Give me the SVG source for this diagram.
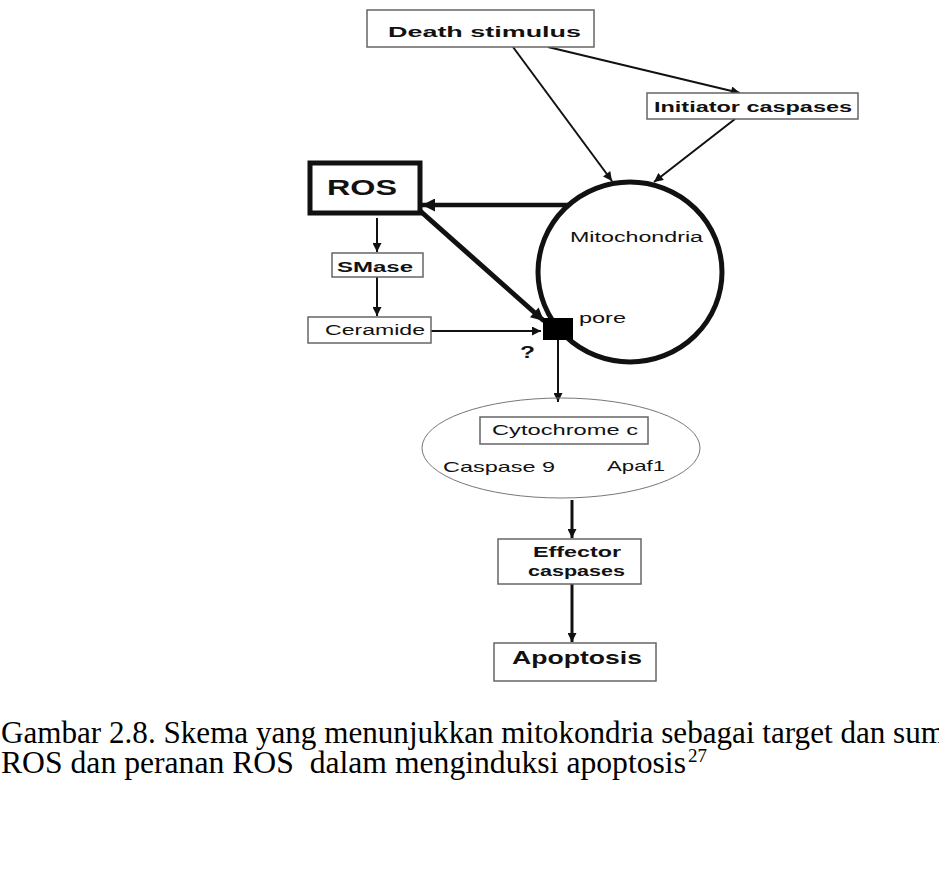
<svg xmlns="http://www.w3.org/2000/svg" width="939" height="883" viewBox="0 0 939 883">
<style>
.box{fill:#fff;stroke:#666;stroke-width:1.5}
.lbl{font-family:"Liberation Sans",Arial,sans-serif;fill:#111}
.b{font-weight:bold}
.edge{stroke:#111;fill:none}
.cap{font-family:"Liberation Serif","Times New Roman",serif;font-size:31px;fill:#000}
.sup{font-family:"Liberation Serif","Times New Roman",serif;font-size:19px;fill:#000}
</style>
<defs>
<marker id="ah" viewBox="0 0 10 10" refX="10" refY="5" markerUnits="userSpaceOnUse" markerWidth="11" markerHeight="9" orient="auto"><path d="M0,0 L10,5 L0,10 z" fill="#111"/></marker>
<marker id="ahb" viewBox="0 0 10 10" refX="10" refY="5" markerUnits="userSpaceOnUse" markerWidth="15" markerHeight="13" orient="auto"><path d="M0,0 L10,5 L0,10 z" fill="#111"/></marker>
</defs>
<rect width="939" height="883" fill="#fff"/>

<g id="connectors">
<line class="edge" x1="513" y1="47" x2="612" y2="181" stroke-width="2" marker-end="url(#ah)"/>
<line class="edge" x1="548" y1="47" x2="740" y2="93" stroke-width="2" marker-end="url(#ah)"/>
<line class="edge" x1="735" y1="119" x2="654" y2="182" stroke-width="2" marker-end="url(#ah)"/>
<line class="edge" x1="569" y1="205" x2="422" y2="205" stroke-width="4.5" marker-end="url(#ahb)"/>
<line class="edge" x1="418" y1="209" x2="544" y2="321" stroke-width="5" marker-end="url(#ahb)"/>
<line class="edge" x1="377" y1="218" x2="377" y2="252" stroke-width="2" marker-end="url(#ah)"/>
<line class="edge" x1="377" y1="277" x2="377" y2="316" stroke-width="2" marker-end="url(#ah)"/>
<line class="edge" x1="431" y1="331" x2="541" y2="331" stroke-width="2" marker-end="url(#ah)"/>
<line class="edge" x1="558" y1="340" x2="558" y2="402" stroke-width="2" marker-end="url(#ah)"/>
<line class="edge" x1="572" y1="500" x2="572" y2="538" stroke-width="3" marker-end="url(#ah)"/>
<line class="edge" x1="572" y1="584" x2="572" y2="642" stroke-width="3" marker-end="url(#ah)"/>
</g>

<g id="death-stimulus">
<rect class="box" x="367" y="10" width="227" height="37"/>
<text class="lbl b" x="388" y="37" font-size="15" textLength="193" lengthAdjust="spacingAndGlyphs">Death stimulus</text>
</g>

<g id="initiator-caspases">
<rect class="box" x="647" y="93" width="211" height="26"/>
<text class="lbl b" x="654" y="112" font-size="14" textLength="198" lengthAdjust="spacingAndGlyphs">Initiator caspases</text>
</g>

<g id="mitochondria">
<ellipse cx="630" cy="272" rx="92" ry="90" fill="none" stroke="#111" stroke-width="5"/>
<text class="lbl" x="570" y="242" font-size="14" textLength="133" lengthAdjust="spacingAndGlyphs">Mitochondria</text>
</g>

<g id="pore">
<rect x="543" y="318" width="30" height="22" fill="#000"/>
<text class="lbl" x="579" y="323" font-size="14" textLength="47" lengthAdjust="spacingAndGlyphs">pore</text>
<text class="lbl b" x="520" y="358" font-size="17" textLength="15" lengthAdjust="spacingAndGlyphs">?</text>
</g>

<g id="ros">
<rect x="310" y="163" width="110" height="50" fill="#fff" stroke="#111" stroke-width="5"/>
<text class="lbl b" x="327" y="195" font-size="22" textLength="70" lengthAdjust="spacingAndGlyphs">ROS</text>
</g>

<g id="smase">
<rect class="box" x="332" y="253" width="91" height="24"/>
<text class="lbl b" x="337" y="272" font-size="14" textLength="76" lengthAdjust="spacingAndGlyphs">SMase</text>
</g>

<g id="ceramide">
<rect class="box" x="308" y="317" width="123" height="26"/>
<text class="lbl" x="325" y="335" font-size="14" textLength="100" lengthAdjust="spacingAndGlyphs">Ceramide</text>
</g>

<g id="complex">
<ellipse cx="561" cy="448" rx="139" ry="50" fill="none" stroke="#777" stroke-width="1"/>
<rect class="box" x="480" y="417" width="168" height="27"/>
<text class="lbl" x="492" y="435" font-size="15" textLength="146" lengthAdjust="spacingAndGlyphs">Cytochrome c</text>
<text class="lbl" x="443" y="472" font-size="15" textLength="112" lengthAdjust="spacingAndGlyphs">Caspase 9</text>
<text class="lbl" x="607" y="471" font-size="15" textLength="58" lengthAdjust="spacingAndGlyphs">Apaf1</text>
</g>

<g id="effector-caspases">
<rect class="box" x="498" y="539" width="143" height="45"/>
<text class="lbl b" x="533" y="557" font-size="15" textLength="88" lengthAdjust="spacingAndGlyphs">Effector</text>
<text class="lbl b" x="528" y="576" font-size="15" textLength="97" lengthAdjust="spacingAndGlyphs">caspases</text>
</g>

<g id="apoptosis">
<rect class="box" x="494" y="643" width="162" height="38"/>
<text class="lbl b" x="512" y="664" font-size="18" textLength="130" lengthAdjust="spacingAndGlyphs">Apoptosis</text>
</g>

<g id="caption">
<text class="cap" x="1" y="743" textLength="944" lengthAdjust="spacingAndGlyphs">Gambar 2.8. Skema yang menunjukkan mitokondria sebagai target dan sum</text>
<text class="cap" x="1" y="773" textLength="685" lengthAdjust="spacingAndGlyphs" xml:space="preserve">ROS dan peranan ROS  dalam menginduksi apoptosis</text>
<text class="sup" x="688" y="762">27</text>
</g>
</svg>
